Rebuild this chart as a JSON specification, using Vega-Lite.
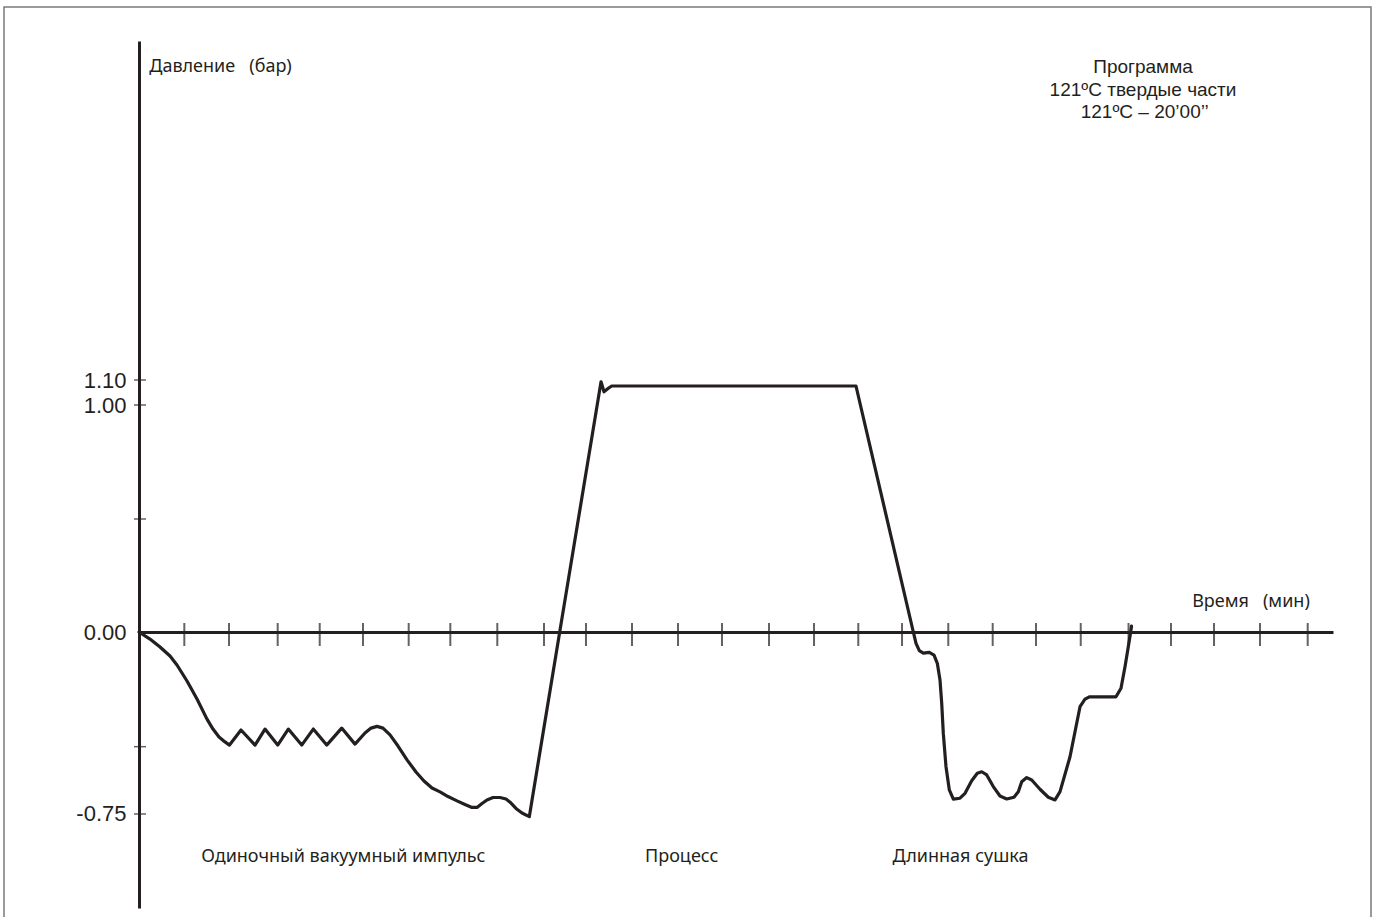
{
  "$schema": "https://vega.github.io/schema/vega-lite/v6.json",
  "autosize": {"type": "none"},
  "padding": {"left": 4, "top": 7, "right": 3, "bottom": -3},
  "width": 1367,
  "height": 913,
  "background": "white",
  "config": {
    "view": {"stroke": "#7a7a7a", "strokeWidth": 1.5},
    "text": {"color": "#231f20"}
  },
  "datasets": {
    "curve": [
      {"t": 0, "v": 0}, {"t": 0.244, "v": -0.029}, {"t": 0.467, "v": -0.062}, {"t": 0.689, "v": -0.099},
      {"t": 0.844, "v": -0.136}, {"t": 1.067, "v": -0.202}, {"t": 1.289, "v": -0.276}, {"t": 1.511, "v": -0.359},
      {"t": 1.644, "v": -0.4}, {"t": 1.778, "v": -0.433}, {"t": 1.911, "v": -0.453}, {"t": 2.011, "v": -0.466},
      {"t": 2.267, "v": -0.404}, {"t": 2.578, "v": -0.466}, {"t": 2.8, "v": -0.4}, {"t": 3.082, "v": -0.466},
      {"t": 3.318, "v": -0.4}, {"t": 3.616, "v": -0.466}, {"t": 3.873, "v": -0.4}, {"t": 4.171, "v": -0.466},
      {"t": 4.504, "v": -0.396}, {"t": 4.8, "v": -0.462}, {"t": 5.022, "v": -0.416}, {"t": 5.156, "v": -0.396},
      {"t": 5.289, "v": -0.389}, {"t": 5.422, "v": -0.396}, {"t": 5.578, "v": -0.424}, {"t": 5.756, "v": -0.47},
      {"t": 5.956, "v": -0.527}, {"t": 6.156, "v": -0.577}, {"t": 6.333, "v": -0.614}, {"t": 6.511, "v": -0.643},
      {"t": 6.689, "v": -0.659}, {"t": 6.867, "v": -0.678}, {"t": 7.067, "v": -0.696}, {"t": 7.244, "v": -0.711},
      {"t": 7.4, "v": -0.723}, {"t": 7.511, "v": -0.723}, {"t": 7.622, "v": -0.707}, {"t": 7.733, "v": -0.692},
      {"t": 7.867, "v": -0.682}, {"t": 8.022, "v": -0.682}, {"t": 8.156, "v": -0.688}, {"t": 8.267, "v": -0.705},
      {"t": 8.378, "v": -0.727}, {"t": 8.511, "v": -0.746}, {"t": 8.673, "v": -0.761},
      {"t": 9.349, "v": 0}, {"t": 10.182, "v": 1.0}, {"t": 10.267, "v": 1.093}, {"t": 10.333, "v": 1.053},
      {"t": 10.422, "v": 1.066}, {"t": 10.504, "v": 1.076}, {"t": 15.933, "v": 1.076}, {"t": 16.031, "v": 1.0},
      {"t": 17.207, "v": 0}, {"t": 17.267, "v": -0.047}, {"t": 17.34, "v": -0.077}, {"t": 17.429, "v": -0.087},
      {"t": 17.562, "v": -0.084}, {"t": 17.667, "v": -0.095}, {"t": 17.74, "v": -0.129}, {"t": 17.8, "v": -0.198},
      {"t": 17.838, "v": -0.294}, {"t": 17.873, "v": -0.417}, {"t": 17.933, "v": -0.555}, {"t": 18.007, "v": -0.651},
      {"t": 18.096, "v": -0.689}, {"t": 18.244, "v": -0.685}, {"t": 18.356, "v": -0.665}, {"t": 18.504, "v": -0.613},
      {"t": 18.629, "v": -0.582}, {"t": 18.727, "v": -0.576}, {"t": 18.838, "v": -0.589}, {"t": 18.984, "v": -0.637},
      {"t": 19.133, "v": -0.676}, {"t": 19.282, "v": -0.688}, {"t": 19.444, "v": -0.681}, {"t": 19.54, "v": -0.658},
      {"t": 19.616, "v": -0.617}, {"t": 19.727, "v": -0.6}, {"t": 19.838, "v": -0.61}, {"t": 20.022, "v": -0.648},
      {"t": 20.207, "v": -0.681}, {"t": 20.356, "v": -0.692}, {"t": 20.467, "v": -0.658}, {"t": 20.689, "v": -0.514},
      {"t": 20.911, "v": -0.308}, {"t": 21.022, "v": -0.277}, {"t": 21.118, "v": -0.267}, {"t": 21.711, "v": -0.267},
      {"t": 21.822, "v": -0.232}, {"t": 21.911, "v": -0.143}, {"t": 21.984, "v": -0.061}, {"t": 22.038, "v": 0.001},
      {"t": 22.056, "v": 0.026}
    ],
    "xticks": [
      {"t": 1.007, "v": 0}, {"t": 2.0, "v": 0}, {"t": 3.082, "v": 0}, {"t": 4.016, "v": 0}, {"t": 4.978, "v": 0},
      {"t": 5.993, "v": 0}, {"t": 6.918, "v": 0}, {"t": 7.962, "v": 0}, {"t": 9.0, "v": 0}, {"t": 9.933, "v": 0},
      {"t": 10.956, "v": 0}, {"t": 11.978, "v": 0}, {"t": 12.956, "v": 0}, {"t": 14.0, "v": 0}, {"t": 15.0, "v": 0},
      {"t": 15.984, "v": 0}, {"t": 16.956, "v": 0}, {"t": 17.984, "v": 0}, {"t": 18.971, "v": 0}, {"t": 19.933, "v": 0},
      {"t": 20.927, "v": 0}, {"t": 21.989, "v": 0}, {"t": 22.933, "v": 0}, {"t": 23.889, "v": 0}, {"t": 24.911, "v": 0},
      {"t": 25.971, "v": 0}
    ],
    "yticks": [
      {"t": 0, "v": 1.1}, {"t": 0, "v": 1.0}, {"t": 0, "v": 0.4978}, {"t": 0, "v": -0.4726}, {"t": 0, "v": -0.75}
    ],
    "captions": [
      {"t": 1.811, "v": 2.333, "label": "Давление\u00a0\u00a0\u00a0(бар)"},
      {"t": 24.71, "v": 0.1115, "label": "Время\u00a0\u00a0\u00a0(мин)"},
      {"t": 4.54, "v": -0.9466, "label": "Одиночный вакуумный импульс"},
      {"t": 12.06, "v": -0.9466, "label": "Процесс"},
      {"t": 18.256, "v": -0.9466, "label": "Длинная сушка"}
    ],
    "program": [
      {"t": 22.311, "v": 2.33, "label": "Программа"},
      {"t": 22.311, "v": 2.236, "label": "121ºC твердые части"},
      {"t": 22.35, "v": 2.147, "label": "121ºC – 20’00’’"}
    ]
  },
  "encoding": {
    "x": {
      "field": "t", "type": "quantitative",
      "scale": {"domain": [0, 26.533], "range": [135, 1329], "nice": false, "zero": false},
      "axis": {"orient": "bottom", "offset": -288, "domainColor": "#231f20", "domainWidth": 3, "ticks": false, "labels": false, "grid": false, "title": null}
    },
    "y": {
      "field": "v", "type": "quantitative",
      "scale": {"domain": [-1.1374, 0, 1, 2.456], "range": [901, 625, 398, 34], "nice": false, "zero": false},
      "axis": {"orient": "left", "offset": -135, "domainColor": "#231f20", "domainWidth": 3, "ticks": false, "grid": false, "title": null,
        "values": [1.1, 1.0, 0, -0.75],
        "labelExpr": "datum.value < 0 ? '-' + format(-datum.value, '.2f') : format(datum.value, '.2f')",
        "labelFont": "Liberation Sans", "labelFontSize": 22,
        "labelColor": "#231f20", "labelPadding": 13, "labelBaseline": "middle"}
    }
  },
  "layer": [
    {
      "data": {"name": "xticks"},
      "mark": {"type": "tick", "orient": "vertical", "size": 23, "thickness": 2, "yOffset": 2.5, "color": "#231f20"}
    },
    {
      "data": {"name": "yticks"},
      "mark": {"type": "tick", "orient": "horizontal", "size": 12, "thickness": 1.5, "xOffset": 1, "color": "#231f20"}
    },
    {
      "data": {"name": "curve"},
      "mark": {"type": "line", "color": "#231f20", "strokeWidth": 3.2, "strokeJoin": "round", "strokeCap": "round"}
    },
    {
      "data": {"name": "captions"},
      "mark": {"type": "text", "align": "center", "baseline": "alphabetic", "font": "Noto Sans", "fontSize": 18, "color": "#231f20"},
      "encoding": {"text": {"field": "label"}}
    },
    {
      "data": {"name": "program"},
      "mark": {"type": "text", "align": "center", "baseline": "alphabetic", "font": "Liberation Sans", "fontSize": 19, "color": "#231f20"},
      "encoding": {"text": {"field": "label"}}
    }
  ]
}
